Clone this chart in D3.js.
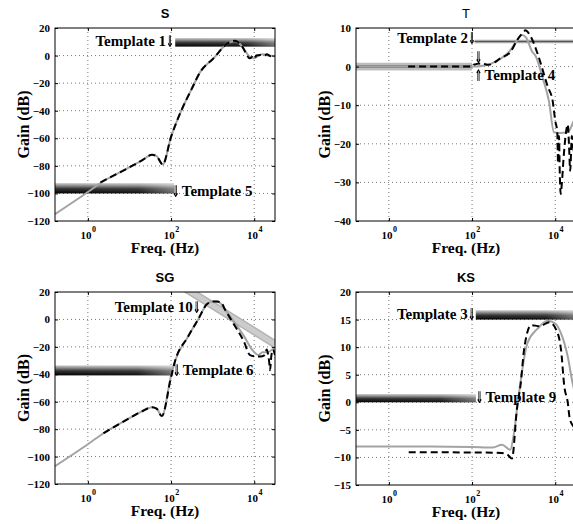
<!DOCTYPE html>
<html>
<head>
<meta charset="utf-8">
<script src="https://cdn.jsdelivr.net/npm/d3@7"></script>
<style>
  html, body { margin: 0; padding: 0; background: #fff; }
  svg { display: block; }
</style>
</head>
<body>
<svg id="fig" width="573" height="524"></svg>
<script>
// ---- Data: [frequency (Hz), gain (dB)] ----
const freqRange = [0.162, 31600];
const freqTicks = [1, 100, 10000];

// S : sensitivity
const sGray = [[0.162,-115],[1,-99],[2,-92.5],[8.7,-82],[20,-76],[35,-72],[45,-73],[63,-79],[100,-59],[182,-39],[316,-24],[500,-12],[1050,-2],[2200,8.5],[3470,10.5],[5000,7],[7900,-1],[10000,-2],[12600,0],[15800,1],[22400,0],[31600,-0.5]];
const sDash = [[2,-92],[8.7,-82],[20,-76],[35,-72],[45,-73],[63,-79],[100,-59],[182,-39],[316,-24],[500,-12],[1050,-2],[2200,8.5],[3470,10.8],[5000,7],[7900,-2],[8900,-1],[10000,-2.5],[11200,0],[14100,0.5],[17800,0],[20000,1],[25100,-0.5],[31600,0]];
const sTicks = [-120,-100,-80,-60,-40,-20,0,20];

// T : complementary sensitivity
const tGray = [[0.162,0],[100,0],[200,0.3],[400,1.5],[800,4],[1260,7],[1580,8.2],[2000,7.5],[2750,4],[3470,2.5],[5010,-3],[7080,-9],[9330,-17],[12600,-17.2],[20000,-17],[28200,-14],[31600,-13]];
const tDash = [[2.9,0],[100,0],[110,0.5],[174,0.8],[250,0.45],[490,2.2],[850,3.9],[1230,7],[1780,9.1],[1900,9.4],[2570,7.8],[3720,3.5],[6610,-5.2],[8710,-9],[10000,-14],[11200,-17],[11700,-25],[12300,-18],[12900,-28],[13500,-33],[14500,-30],[15800,-24],[18200,-17],[20000,-15],[21400,-20],[22900,-27],[25100,-18],[28200,-22],[31600,-20]];
const tTicks = [-40,-30,-20,-10,0,10];

// SG : sensitivity times plant
const sgGray = [[0.162,-107],[1,-91],[2.37,-83],[10,-72],[20,-67],[35,-64],[45,-65],[60,-70.5],[100,-41],[126,-30],[251,-13],[447,0],[724,11],[1000,13],[1260,13],[1580,11.5],[2000,7],[3160,-1],[5620,-12],[8910,-22],[12600,-26],[15800,-24],[20000,-24],[31600,-20]];
const sgDash = [[2.37,-83],[10,-72],[20,-67],[35,-64],[45,-65],[60,-70.5],[100,-42],[126,-30],[251,-13],[447,0],[724,11],[1000,13],[1260,13],[1580,12.5],[2000,7],[3160,-3],[5620,-16],[7940,-26],[11200,-27],[14100,-27],[17800,-26],[20000,-22],[21400,-25],[22900,-31],[24000,-37],[25700,-27],[28200,-22],[31600,-26]];
const sgTicks = [-120,-100,-80,-60,-40,-20,0,20];
const template10 = [[200,23.4],[31600,-18]];

// KS : controller times sensitivity
const ksGray = [[0.162,-8],[10,-8],[100,-8.1],[316,-8.2],[525,-7.7],[832,-8.6],[1000,-6],[1320,1.2],[2140,10.7],[3720,13.3],[6610,14.8],[10000,14.3],[13800,12.5],[20000,8.3],[26300,3.4],[31600,1]];
const ksDash = [[3,-9.06],[100,-9.1],[500,-9.2],[708,-9.5],[912,-10.2],[1200,-1.2],[1480,3.4],[1780,9.5],[2630,14],[4170,13.8],[7240,14.5],[11500,12.5],[13800,9.5],[16600,2.8],[20000,0],[22400,-3],[28200,-4.5],[31600,-5]];
const ksTicks = [-15,-10,-5,0,5,10,15,20];

// Template bounds: [f start, f end, upper dB, lower dB]
const sTemplates  = [[126,31600,12.75,6.5],[0.162,118,-92.5,-100]];
const sgTemplates = [[0.162,112,-33.5,-40.8]];
const ksTemplates = [[123,31600,16.7,15],[0.162,123,1.5,0]];
const tTemplate2 = [[115,6.5],[31600,6.5]];
const tTemplate4 = [0.162,100,1,-1];

// Annotation anchors: arrow frequency, baseline gain, arrow glyph, text side
const sNotes  = [{text:"Template 1", f:95,  db:6.8,   arrow:"⇓", side:"left"},
                 {text:"Template 5", f:130, db:-101.7,arrow:"⇓", side:"right"}];
const tNotes  = [{text:"Template 2", f:100, db:6.2,   arrow:"⇓", side:"left"},
                 {text:"",           f:143, db:1.1,   arrow:"⇓", side:"right"},
                 {text:"Template 4", f:143, db:-3.4,  arrow:"⇑", side:"right"}];
const sgNotes = [{text:"Template 10",f:417, db:5.4,   arrow:"⇓", side:"left"},
                 {text:"Template 6", f:138, db:-40.8, arrow:"⇓", side:"right"}];
const ksNotes = [{text:"Template 3", f:98,  db:15.15, arrow:"⇓", side:"left"},
                 {text:"Template 9", f:151, db:0.02,  arrow:"⇓", side:"right"}];

// ---- Layout ----
const W = 220;
const panels = [
  {title:"S",  bold:true,  left:55,  top:28,  h:193, yDomain:[-120,20], ticks:sTicks,  gray:sGray,  dash:sDash,  templates:sTemplates,  notes:sNotes},
  {title:"T",  bold:false, left:356, top:28,  h:193, yDomain:[-40,10],  ticks:tTicks,  gray:tGray,  dash:tDash,  templates:[],          notes:tNotes, tLines:true},
  {title:"SG", bold:true,  left:55,  top:292, h:192, yDomain:[-120,20], ticks:sgTicks, gray:sgGray, dash:sgDash, templates:sgTemplates, notes:sgNotes, diag:template10},
  {title:"KS", bold:true,  left:356, top:292, h:193, yDomain:[-15,20],  ticks:ksTicks, gray:ksGray, dash:ksDash, templates:ksTemplates, notes:ksNotes}
];

const serif = "'Liberation Serif','Times New Roman',Times,serif";
const sans = "'Liberation Sans',Arial,Helvetica,sans-serif";

const svg = d3.select("#fig");
const defs = svg.append("defs");

// vertical shading of template bars
const vg = defs.append("linearGradient").attr("id","barV").attr("x1",0).attr("y1",0).attr("x2",0).attr("y2",1);
vg.append("stop").attr("offset","0%").attr("stop-color","#cfcfcf");
vg.append("stop").attr("offset","25%").attr("stop-color","#8c8c8c");
vg.append("stop").attr("offset","55%").attr("stop-color","#333");
vg.append("stop").attr("offset","100%").attr("stop-color","#000");
// fading towards the bar's far end
const hg = defs.append("linearGradient").attr("id","barH").attr("x1",0).attr("y1",0).attr("x2",1).attr("y2",0);
hg.append("stop").attr("offset","0%").attr("stop-color","#fff").attr("stop-opacity",0);
hg.append("stop").attr("offset","70%").attr("stop-color","#fff").attr("stop-opacity",0.05);
hg.append("stop").attr("offset","100%").attr("stop-color","#fff").attr("stop-opacity",0.4);
// grey-scale filter for the arrow glyphs
defs.append("filter").attr("id", "mono")
  .append("feColorMatrix").attr("type", "saturate").attr("values", 0);

panels.forEach((p, i) => {
  const g = svg.append("g").attr("transform", `translate(${p.left},${p.top})`);
  const x = d3.scaleLog().domain(freqRange).range([0, W]);
  const y = d3.scaleLinear().domain(p.yDomain).range([p.h, 0]);

  defs.append("clipPath").attr("id", "clip" + i)
    .append("rect").attr("width", W).attr("height", p.h);

  // dotted grid
  const inner = p.ticks.filter(v => v > p.yDomain[0] && v < p.yDomain[1]);
  g.append("g").selectAll("line").data(inner).join("line")
    .attr("x1", 0).attr("x2", W).attr("y1", d => y(d)).attr("y2", d => y(d))
    .attr("stroke", "#555").attr("stroke-width", 0.8).attr("stroke-dasharray", "1,3");
  g.append("g").selectAll("line").data(freqTicks).join("line")
    .attr("y1", 0).attr("y2", p.h).attr("x1", d => x(d)).attr("x2", d => x(d))
    .attr("stroke", "#555").attr("stroke-width", 0.8).attr("stroke-dasharray", "1,3");

  const plot = g.append("g").attr("clip-path", `url(#clip${i})`);

  // template bars
  p.templates.forEach(t => {
    const bx = x(t[0]), bw = x(t[1]) - x(t[0]);
    const by = y(t[2]), bh = y(t[3]) - y(t[2]);
    plot.append("rect").attr("x", bx).attr("y", by).attr("width", bw).attr("height", bh).attr("fill", "url(#barV)");
    plot.append("rect").attr("x", bx).attr("y", by).attr("width", bw).attr("height", bh).attr("fill", "url(#barH)");
  });

  const line = d3.line().x(d => x(d[0])).y(d => y(d[1])).curve(d3.curveMonotoneX);
  const straight = d3.line().x(d => x(d[0])).y(d => y(d[1]));

  if (p.tLines) {
    plot.append("rect").attr("x", x(tTemplate4[0])).attr("y", y(tTemplate4[2]))
      .attr("width", x(tTemplate4[1]) - x(tTemplate4[0])).attr("height", y(tTemplate4[3]) - y(tTemplate4[2]))
      .attr("fill", "#bdbdbd");
    plot.append("line").attr("x1", x(tTemplate4[0])).attr("x2", x(tTemplate4[1]))
      .attr("y1", y(0)).attr("y2", y(0)).attr("stroke", "#7a7a7a").attr("stroke-width", 3);
    plot.append("path").datum(tTemplate2).attr("d", straight)
      .attr("stroke", "#a8a8a8").attr("stroke-width", 3.5).attr("fill", "none");
    plot.append("path").datum(tTemplate2).attr("d", straight)
      .attr("stroke", "#555").attr("stroke-width", 1).attr("fill", "none");
  }
  if (p.diag) {
    plot.append("path").datum(p.diag).attr("d", straight)
      .attr("stroke", "#b4b4b4").attr("stroke-width", 8).attr("fill", "none");
    plot.append("path").datum(p.diag).attr("d", straight)
      .attr("stroke", "#cccccc").attr("stroke-width", 5).attr("fill", "none");
  }

  // response curves
  plot.append("path").datum(p.gray).attr("d", line)
    .attr("fill", "none").attr("stroke", "#a3a3a3").attr("stroke-width", 2);
  plot.append("path").datum(p.dash).attr("d", line)
    .attr("fill", "none").attr("stroke", "#000").attr("stroke-width", 2)
    .attr("stroke-dasharray", "7,4");

  // box
  g.append("rect").attr("width", W).attr("height", p.h)
    .attr("fill", "none").attr("stroke", "#000").attr("stroke-width", 1);

  // axes with inward ticks
  const yl = g.append("g").call(d3.axisLeft(y).tickValues(p.ticks).tickSize(-3).tickPadding(5));
  g.append("g").attr("transform", `translate(${W},0)`).call(d3.axisRight(y).tickValues(p.ticks).tickSize(-3).tickFormat(""));
  const xb = g.append("g").attr("transform", `translate(0,${p.h})`).call(d3.axisBottom(x).tickValues(freqTicks).tickSize(-3).tickFormat(""));
  g.append("g").call(d3.axisTop(x).tickValues(freqTicks).tickSize(-3).tickFormat(""));
  g.selectAll(".domain").remove();
  g.selectAll(".tick line").attr("stroke", "#000");

  yl.selectAll(".tick text").attr("font-family", serif).attr("font-weight", "bold")
    .attr("font-size", 11).attr("fill", "#000");

  xb.selectAll(".tick").append("text")
    .attr("y", 17.5).attr("text-anchor", "middle").attr("fill", "#000")
    .attr("font-family", serif).attr("font-weight", "bold").attr("font-size", 11)
    .text("10")
    .append("tspan").attr("dx", 0.5).attr("dy", -7).attr("font-size", 8)
    .text(d => Math.round(Math.log10(d)));

  // title and axis labels
  g.append("text").attr("x", W / 2).attr("y", -10).attr("text-anchor", "middle")
    .attr("font-family", sans).attr("font-weight", p.bold ? "bold" : "normal").attr("font-size", 13)
    .text(p.title);
  g.append("text").attr("transform", `translate(-32,${p.h / 2}) rotate(-90)`)
    .attr("text-anchor", "middle").attr("dy", "0.35em")
    .attr("font-family", serif).attr("font-weight", "bold").attr("font-size", 16)
    .text("Gain (dB)");
  g.append("text").attr("x", W / 2).attr("y", p.h + 32).attr("text-anchor", "middle")
    .attr("font-family", serif).attr("font-weight", "bold").attr("font-size", 15.5)
    .text("Freq. (Hz)");

  // template annotations
  const arrows = g.append("g").attr("filter", "url(#mono)");
  p.notes.forEach(n => {
    const ax = x(n.f), by = y(n.db);
    arrows.append("text").attr("transform", `translate(${ax},${by + 1}) scale(0.6,1)`)
      .attr("text-anchor", "middle").attr("font-family", "'DejaVu Sans',sans-serif")
      .attr("font-weight", "bold").attr("font-size", 16).attr("fill", "#000")
      .text(n.arrow);
    if (n.text) {
      g.append("text")
        .attr("x", n.side === "left" ? ax - 4 : ax + 6).attr("y", by)
        .attr("text-anchor", n.side === "left" ? "end" : "start")
        .attr("font-family", serif).attr("font-weight", "bold").attr("font-size", 15)
        .text(n.text);
    }
  });
});
</script>
</body>
</html>
